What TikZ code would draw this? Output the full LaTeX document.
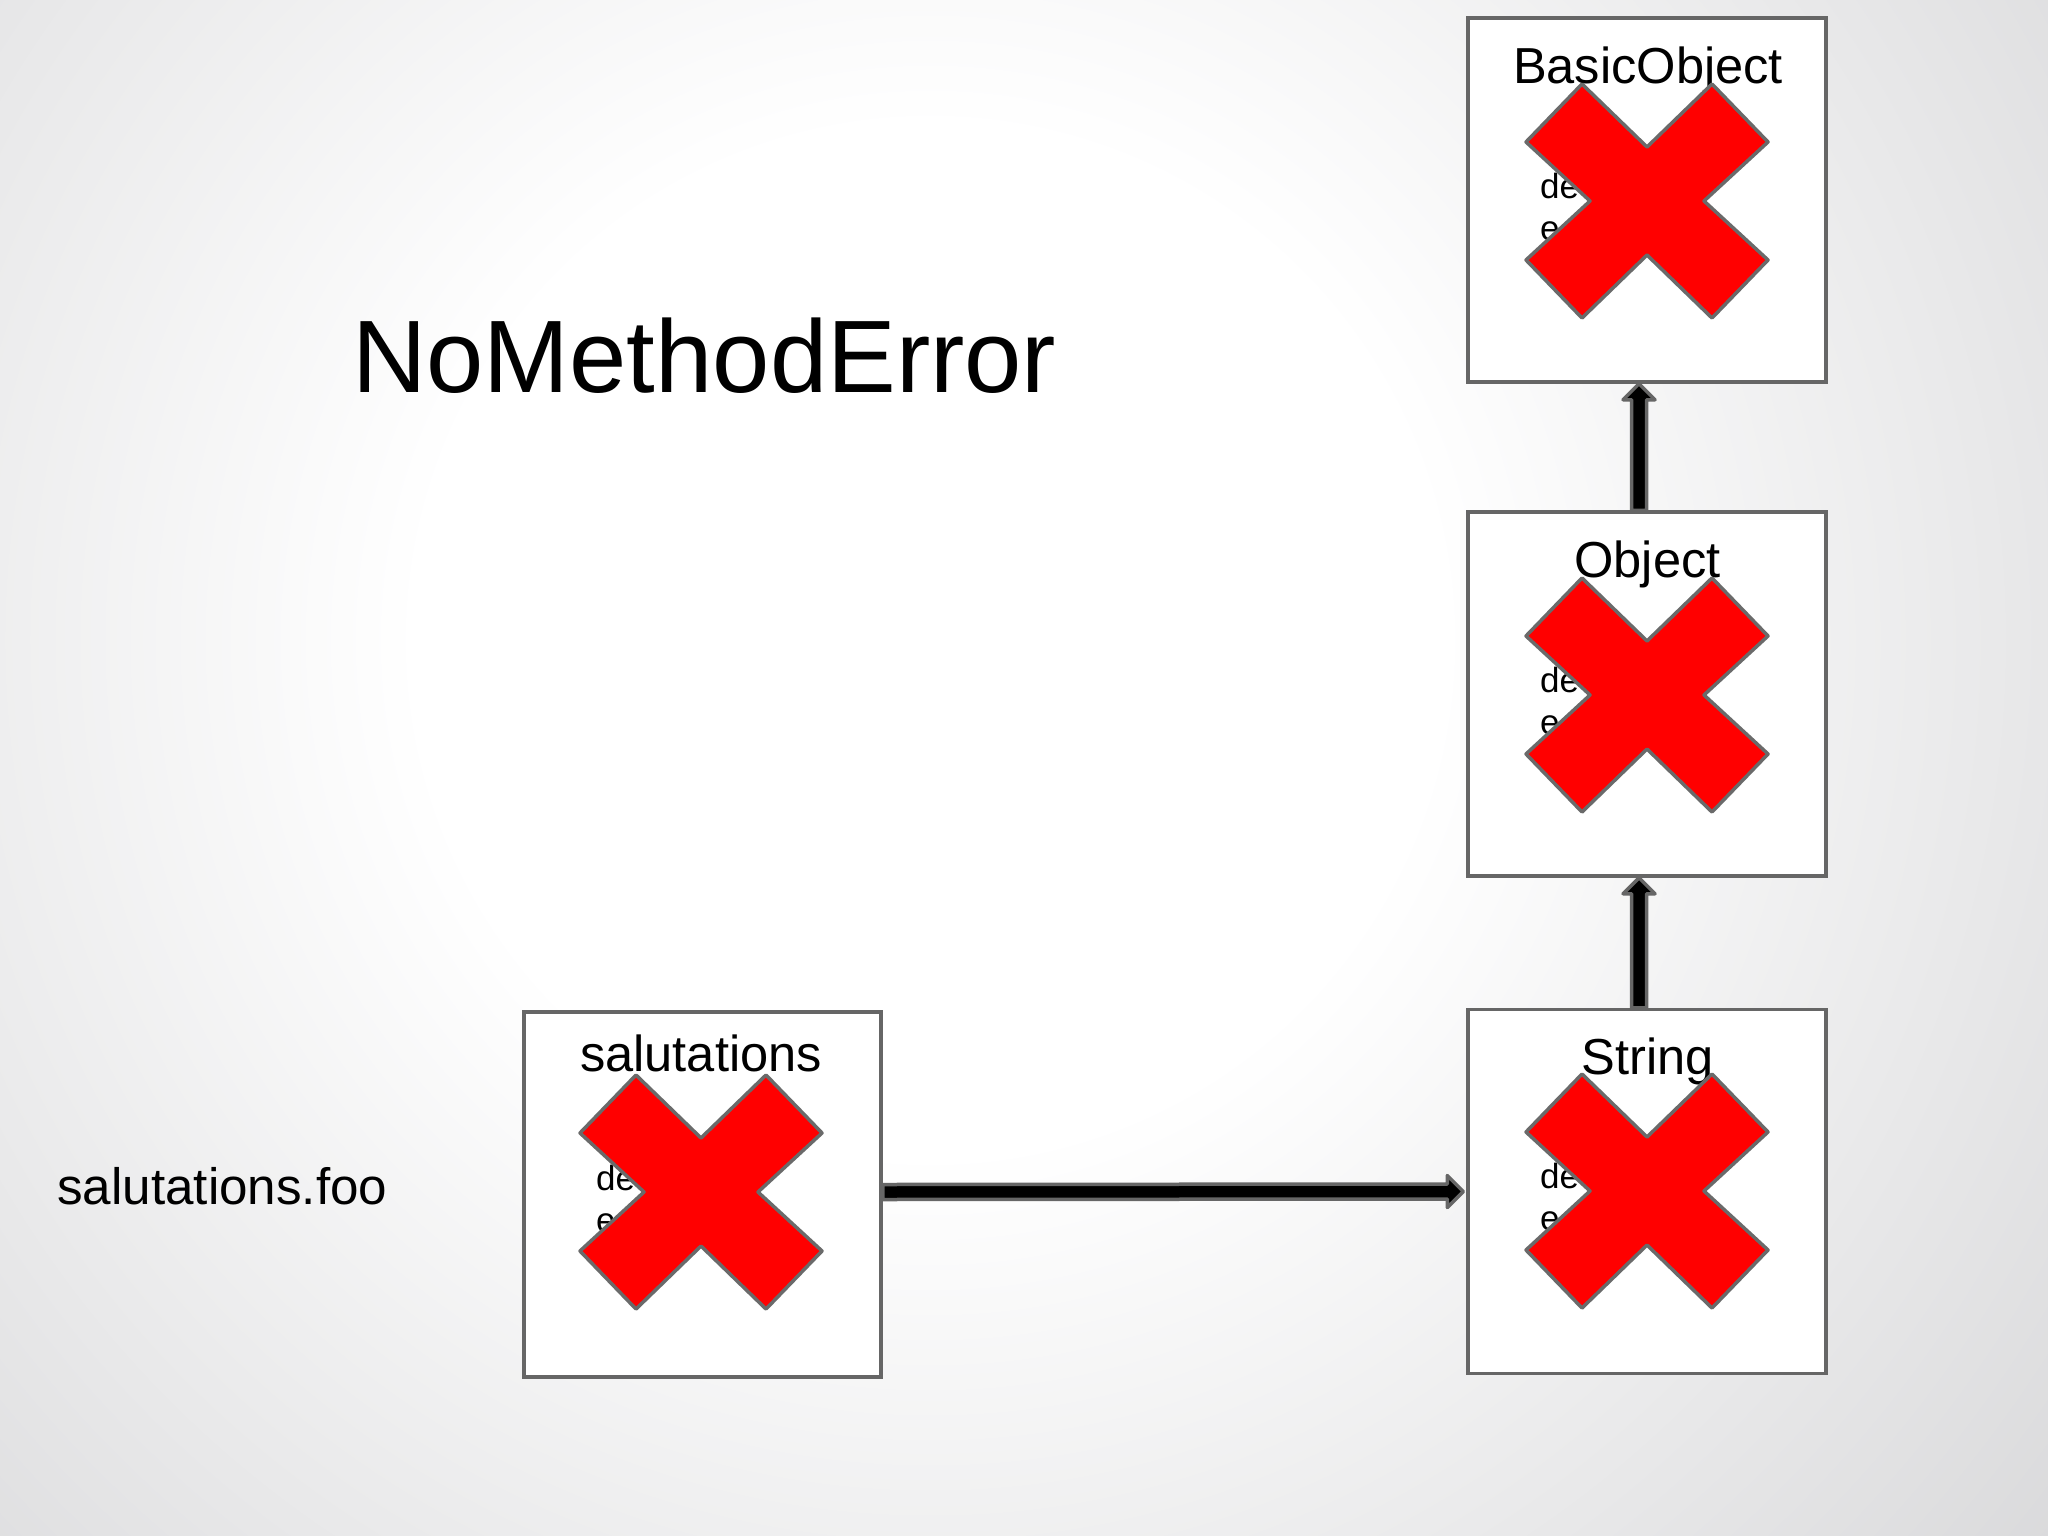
\documentclass[tikz,border=0pt]{standalone}
\usepackage{fontspec}
\setmainfont{Liberation Sans}
\usetikzlibrary{calc}
\definecolor{bggrey}{HTML}{C8C8CB}
\definecolor{bgmid}{HTML}{D2D2D4}
\definecolor{edgegrey}{HTML}{666666}
\definecolor{xgrey}{HTML}{6A6A6A}
\definecolor{xred}{HTML}{FF0000}
\pgfdeclareradialshading{bgshade}{\pgfpoint{0bp}{0bp}}{color(0bp)=(white); color(8bp)=(white); color(25.6bp)=(bgmid); color(50bp)=(bggrey)}
\newcommand\vblockarrow[2]{%
  \filldraw[blockarr] ($(#1)+(-7.5,0)$) -- ($(#2)+(-7.5,16)$) -- ($(#2)+(-16,16)$) -- (#2) -- ($(#2)+(16,16)$) -- ($(#2)+(7.5,16)$) -- ($(#1)+(7.5,0)$) -- cycle;}
\newcommand\hblockarrow[2]{%
  \filldraw[blockarr] ($(#1)+(0,-7.5)$) -- ($(#2)+(-16,-7.5)$) -- ($(#2)+(-16,-16)$) -- (#2) -- ($(#2)+(-16,16)$) -- ($(#2)+(-16,7.5)$) -- ($(#1)+(0,7.5)$) -- cycle;}
\tikzset{
  classbox/.style={draw=edgegrey, fill=white, line width=3.5, minimum width=358, minimum height=364, inner sep=0},
  boxtitle/.style={anchor=base, inner sep=0, font=\fontsize{50.6}{60}\selectfont},
  hiddentext/.style={anchor=base west, inner sep=0, font=\fontsize{35}{42}\selectfont},
  bigtitle/.style={anchor=base west, inner sep=0, font=\fontsize{103}{120}\selectfont},
  calltext/.style={anchor=base west, inner sep=0, font=\fontsize{51.2}{60}\selectfont},
  blockarr/.style={fill=black, draw=edgegrey, line width=3.5, line join=round},
  redx/.pic={\filldraw[fill=xred, draw=xgrey, line width=3.5, line join=round]
    (-121,-59) -- (-65,-117) -- (0,-54) -- (65,-117) -- (121,-59) -- (57,0) --
    (121,59) -- (65,117) -- (0,54) -- (-65,117) -- (-121,59) -- (-57,0) -- cycle;}
}
\begin{document}
\begin{tikzpicture}[x=1pt, y=-1pt]
\useasboundingbox (0,0) rectangle (2048,1536);
% background
\fill[bggrey] (0,0) rectangle (2048,1536);
\begin{scope}
  \clip (0,0) rectangle (2048,1536);
  \shade[shading=bgshade] (930,640) circle (1600);
\end{scope}

% title
\node[bigtitle] (err) at (352,392) {NoMethodError};
\node[calltext] (call) at (57,1204) {salutations.foo};

% boxes
\node[classbox] (bo)  at (1647,200)   {};
\node[classbox] (obj) at (1647,694)   {};
\node[classbox] (str) at (1647,1191.5) {};
\node[classbox, minimum width=357, minimum height=365] (sal) at (702.5,1194.5) {};

% titles
\node[boxtitle] (bot)  at (1648,84)   {BasicObject};
\node[boxtitle] (objt) at (1647.5,577) {Object};
\node[boxtitle] (strt) at (1647.5,1074) {String};
\node[boxtitle] (salt) at (701,1071)  {salutations};

% partially hidden method text
\node[hiddentext] (bod1) at (1540,198) {de};
\node[hiddentext] (boe1) at (1540,240) {e};
\node[hiddentext] (obd1) at (1540,692) {de};
\node[hiddentext] (obe1) at (1540,734) {e};
\node[hiddentext] (std1) at (1540,1188) {de};
\node[hiddentext] (ste1) at (1540,1230) {e};
\node[hiddentext] (sad1) at (596,1190) {de};
\node[hiddentext] (sae1) at (596,1232) {e};

% red crosses
\pic at (1647,201) {redx};
\pic at (1647,695) {redx};
\pic at (1647,1191) {redx};
\pic at (701,1192) {redx};

% connectors
\coordinate (a1s) at ($(str.north)+(-8,0)$);
\coordinate (a1t) at ($(obj.south)+(-8,0)$);
\coordinate (a2s) at ($(obj.north)+(-8,0)$);
\coordinate (a2t) at ($(bo.south)+(-8,0)$);
\coordinate (a3s) at ($(sal.east)+(0,-2.5)$);
\coordinate (a3t) at ($(str.west)+(-3,0)$);
\vblockarrow{a1s}{a1t}
\vblockarrow{a2s}{a2t}
\hblockarrow{a3s}{a3t}
\end{tikzpicture}
\end{document}
